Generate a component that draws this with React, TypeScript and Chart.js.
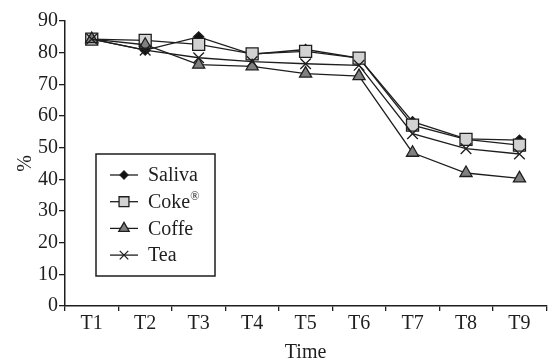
import React, { useEffect, useRef } from 'react';
import { Chart, registerables } from 'chart.js';

Chart.register(...registerables);

const categories = ['T1', 'T2', 'T3', 'T4', 'T5', 'T6', 'T7', 'T8', 'T9'];
const saliva = [84.3, 80.8, 85.0, 79.5, 81.0, 78.3, 58.2, 52.8, 52.4];
const coke = [84.3, 83.9, 82.6, 79.6, 80.4, 78.3, 57.1, 52.6, 50.8];
const coffe = [84.3, 82.5, 76.2, 75.7, 73.4, 72.6, 48.4, 42.0, 40.3];
const tea = [84.3, 80.8, 78.4, 77.2, 76.5, 76.0, 54.4, 49.7, 48.0];
const seriesNames = ['Saliva', 'Coke®', 'Coffe', 'Tea'];
const yMin = 0;
const yMax = 90;
const yStep = 10;

const FONT = "'Liberation Serif', 'DejaVu Serif', serif";
const INK = '#1e1e1e';

type Mk = { style: string; fill: string; r: number };
const markers: Mk[] = [
  { style: 'rectRot', fill: '#111111', r: 5 },
  { style: 'rect', fill: '#d2d2d2', r: 8.5 },
  { style: 'triangle', fill: '#808080', r: 7 },
  { style: 'crossRot', fill: INK, r: 7.5 },
];

function drawMarker(ctx: CanvasRenderingContext2D, m: Mk, x: number, y: number, r: number) {
  ctx.beginPath();
  if (m.style === 'rectRot') {
    ctx.moveTo(x - r, y);
    ctx.lineTo(x, y - r);
    ctx.lineTo(x + r, y);
    ctx.lineTo(x, y + r);
    ctx.closePath();
    ctx.fillStyle = m.fill;
    ctx.fill();
    ctx.stroke();
  } else if (m.style === 'rect') {
    const s = r * Math.SQRT1_2;
    ctx.rect(x - s, y - s, 2 * s, 2 * s);
    ctx.fillStyle = m.fill;
    ctx.fill();
    ctx.stroke();
  } else if (m.style === 'triangle') {
    for (let k = 0; k < 3; k++) {
      const a = (k * 2 * Math.PI) / 3;
      const px = x + Math.sin(a) * r;
      const py = y - Math.cos(a) * r;
      if (k === 0) ctx.moveTo(px, py);
      else ctx.lineTo(px, py);
    }
    ctx.closePath();
    ctx.fillStyle = m.fill;
    ctx.fill();
    ctx.stroke();
  } else {
    const d = r * Math.SQRT1_2;
    ctx.moveTo(x - d, y - d);
    ctx.lineTo(x + d, y + d);
    ctx.moveTo(x + d, y - d);
    ctx.lineTo(x - d, y + d);
    ctx.stroke();
  }
}

const boxLegend = {
  id: 'boxLegend',
  afterDraw(chart: any) {
    const ctx: CanvasRenderingContext2D = chart.ctx;
    const area = chart.chartArea;
    const bx = area.left + 31;
    const by = area.top + 133;
    const bw = 119;
    const bh = 122;
    ctx.save();
    ctx.strokeStyle = INK;
    ctx.lineWidth = 1.5;
    ctx.fillStyle = '#ffffff';
    ctx.fillRect(bx, by, bw, bh);
    ctx.strokeRect(bx, by, bw, bh);
    ctx.textBaseline = 'middle';
    seriesNames.forEach((name, i) => {
      const y = by + 21 + i * 26.7;
      ctx.strokeStyle = INK;
      ctx.lineWidth = 1.3;
      ctx.beginPath();
      ctx.moveTo(bx + 14, y);
      ctx.lineTo(bx + 42, y);
      ctx.stroke();
      const m = markers[i];
      const lr = m.style === 'rectRot' ? 4 : m.style === 'rect' ? 7 : 6;
      drawMarker(ctx, m, bx + 28, y, lr);
      ctx.fillStyle = INK;
      const sup = name.endsWith('®');
      const base = sup ? name.slice(0, -1) : name;
      ctx.font = `20px ${FONT}`;
      ctx.fillText(base, bx + 52, y + 1);
      if (sup) {
        const w = ctx.measureText(base).width;
        ctx.font = `12px ${FONT}`;
        ctx.fillText('®', bx + 52 + w, y - 5);
      }
    });
    ctx.restore();
  },
};

export default function App() {
  const ref = useRef<HTMLCanvasElement | null>(null);
  useEffect(() => {
    document.body.style.margin = '0';
    document.body.style.overflow = 'hidden';
    const seriesData = [saliva, coke, coffe, tea];
    const chart = new Chart(ref.current as HTMLCanvasElement, {
      type: 'line',
      data: {
        labels: categories,
        datasets: seriesData.map((d, i) => ({
          label: seriesNames[i],
          data: d,
          order: 4 - i,
          borderColor: INK,
          borderWidth: 1.3,
          backgroundColor: markers[i].fill,
          pointStyle: markers[i].style as any,
          pointRadius: markers[i].r,
          pointBorderColor: INK,
          pointBorderWidth: 1.3,
          pointBackgroundColor: markers[i].fill,
          tension: 0,
          fill: false,
        })),
      },
      options: {
        animation: false,
        responsive: false,
        maintainAspectRatio: false,
        layout: { padding: { top: 21, right: 0, left: 0, bottom: 0 } },
        plugins: { legend: { display: false }, tooltip: { enabled: false }, title: { display: false } },
        scales: {
          x: {
            type: 'category',
            offset: true,
            grid: { display: true, offset: true, drawOnChartArea: false, drawTicks: true, tickLength: 5, color: INK, lineWidth: 1.3 },
            border: { display: true, color: INK, width: 1.5 },
            ticks: { color: INK, font: { family: FONT, size: 20 }, padding: 1, maxRotation: 0, autoSkip: false },
            title: { display: true, text: 'Time', color: INK, font: { family: FONT, size: 20 }, padding: { top: -4, bottom: -4 } },
            afterFit: (s: any) => { s.height = 55; },
          },
          y: {
            min: yMin,
            max: yMax,
            grid: { display: true, drawOnChartArea: false, drawTicks: true, tickLength: 6, color: INK, lineWidth: 1.3 },
            border: { display: true, color: INK, width: 1.5 },
            ticks: { stepSize: yStep, color: INK, font: { family: FONT, size: 20 }, padding: 1 },
            title: { display: true, text: '%', color: INK, font: { family: FONT, size: 20 }, padding: { top: 14, bottom: 14 } },
            afterFit: (s: any) => { s.width = 65; },
          },
        },
      },
      plugins: [boxLegend],
    } as any);
    return () => chart.destroy();
  }, []);
  return (
    <div style={{ width: 553, height: 361, overflow: 'hidden', background: '#fff' }}>
      <canvas ref={ref} width={556} height={361} style={{ display: 'block', width: 556, height: 361 }} />
    </div>
  );
}
